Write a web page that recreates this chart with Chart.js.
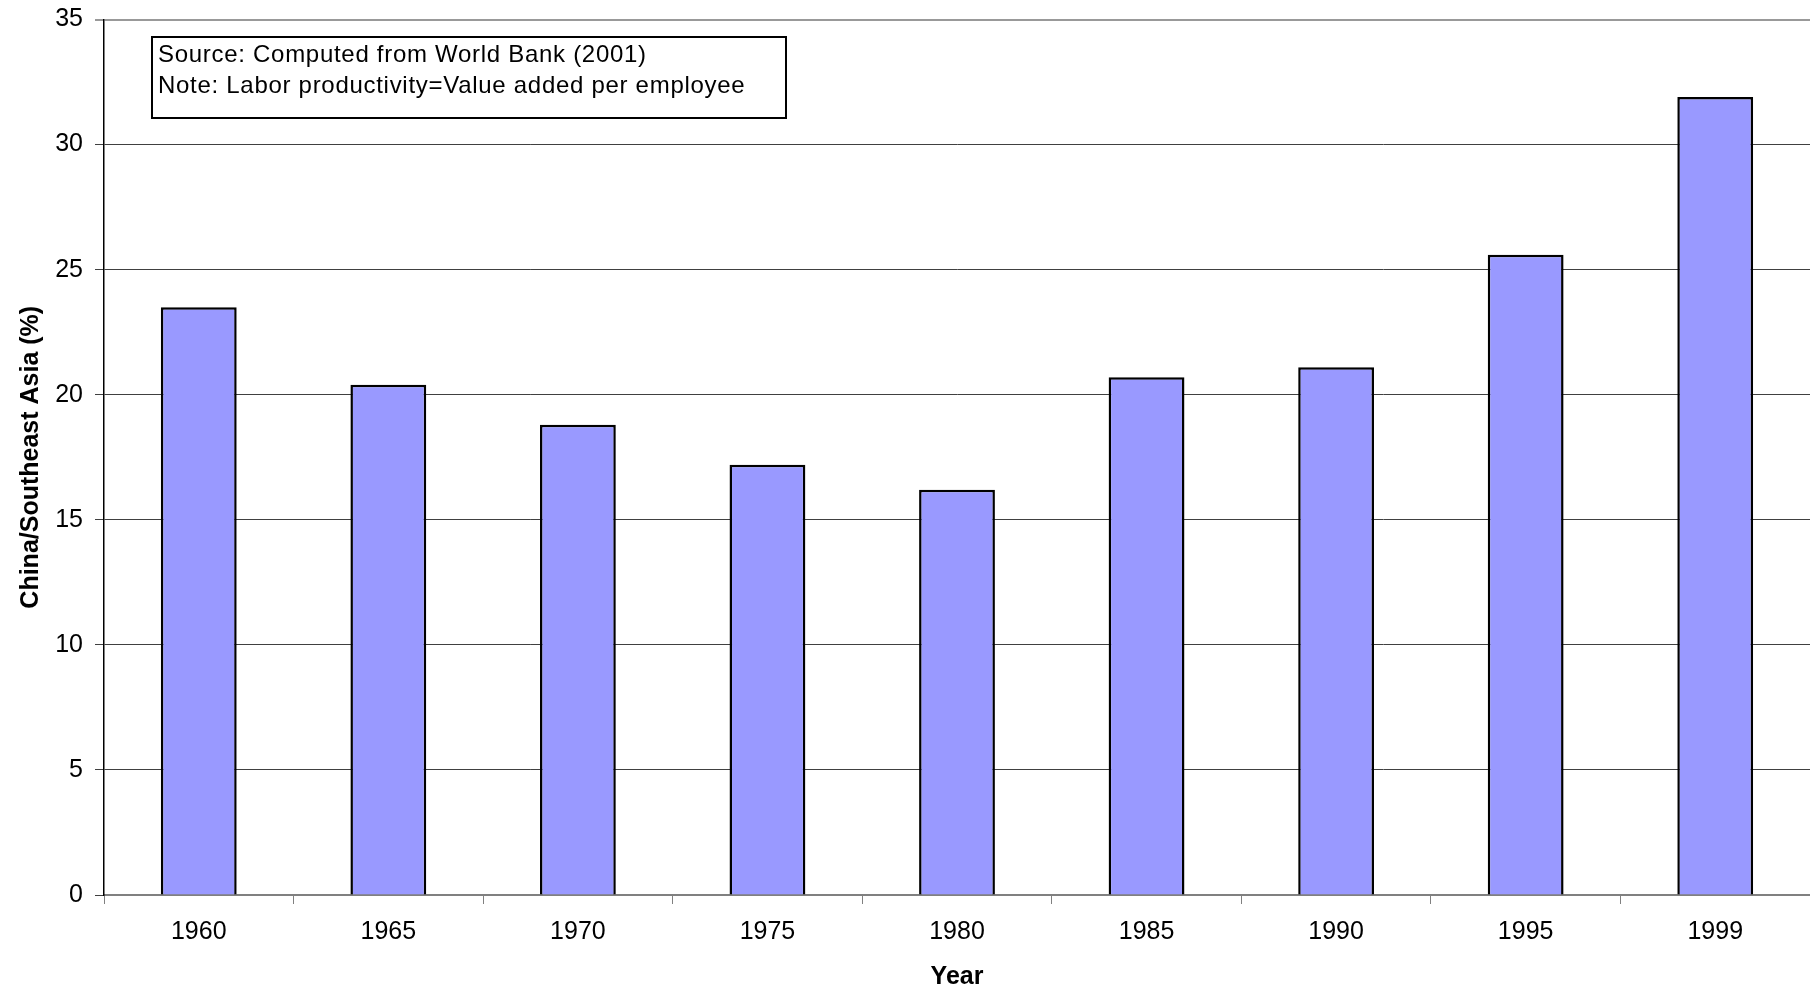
<!DOCTYPE html>
<html>
<head>
<meta charset="utf-8">
<script src="https://cdn.jsdelivr.net/npm/chart.js@4.4.0/dist/chart.umd.min.js"></script>
<style>
html,body{margin:0;padding:0;background:#fff;}
#wrap{width:1810px;height:992px;}
</style>
</head>
<body>
<div id="wrap"><canvas id="c" width="1810" height="992"></canvas></div>
<script>
const years = ['1960','1965','1970','1975','1980','1985','1990','1995','1999'];
const ratio = [23.5, 20.4, 18.8, 17.2, 16.2, 20.7, 21.1, 25.6, 31.9];
const yTitle = 'China/Southeast Asia (%)';
const xTitle = 'Year';
const noteLines = ['Source: Computed from World Bank (2001)', 'Note: Labor productivity=Value added per employee'];

const FONT = "'Liberation Sans', Arial, sans-serif";

const notePlugin = {
  id: 'note',
  afterDraw(chart) {
    const ctx = chart.ctx;
    ctx.save();
    const bx = 152, by = 37, bw = 634, bh = 81;
    ctx.fillStyle = '#fff';
    ctx.fillRect(bx, by, bw, bh);
    ctx.strokeStyle = '#000';
    ctx.lineWidth = 2;
    ctx.strokeRect(bx, by, bw, bh);
    ctx.fillStyle = '#000';
    ctx.font = '24px ' + FONT;
    ctx.textBaseline = 'middle';
    ctx.textAlign = 'left';
    const natural = ctx.measureText(noteLines[0]).width;
    const sp = Math.max(0, (488 - natural) / (noteLines[0].length - 1));
    ctx.letterSpacing = sp.toFixed(2) + 'px';
    ctx.fillText(noteLines[0], 158, 55);
    ctx.fillText(noteLines[1], 158, 86);
    ctx.restore();
  }
};

new Chart(document.getElementById('c'), {
  type: 'bar',
  data: {
    labels: years,
    datasets: [{
      data: ratio,
      backgroundColor: '#9999FF',
      borderColor: '#000000',
      borderWidth: 2.5,
      categoryPercentage: 0.8,
      barPercentage: 0.5
    }]
  },
  options: {
    responsive: false,
    animation: false,
    devicePixelRatio: 1,
    layout: { padding: { top: 19, right: 0, bottom: 0, left: 0 } },
    plugins: { legend: { display: false }, tooltip: { enabled: false } },
    scales: {
      x: {
        offset: true,
        grid: { offset: true, drawOnChartArea: false, drawTicks: true, tickLength: 9, color: '#808080', lineWidth: 1 },
        border: { color: '#808080', width: 2 },
        ticks: { color: '#000', font: { family: FONT, size: 25 }, padding: 13, maxRotation: 0 },
        title: { display: true, text: xTitle, color: '#000', font: { family: FONT, size: 25, weight: 'bold' }, padding: { top: 0, bottom: 0 } },
        afterFit(s) { s.height = 97; }
      },
      y: {
        min: 0, max: 35,
        ticks: { stepSize: 5, color: '#000', font: { family: FONT, size: 25, lineHeight: 0.6 }, padding: 12 },
        grid: {
          color: c => (c.tick && c.tick.value === 35) ? '#999999' : '#404040',
          lineWidth: c => (c.tick && c.tick.value === 35) ? 2 : 1,
          tickLength: 9
        },
        border: { color: '#000', width: 1.5 },
        title: { display: true, text: yTitle, color: '#000', font: { family: FONT, size: 25, weight: 'bold' }, padding: { top: 16, bottom: 0 } },
        afterFit(s) { s.width = 104; }
      }
    }
  },
  plugins: [notePlugin]
});
</script>
</body>
</html>
